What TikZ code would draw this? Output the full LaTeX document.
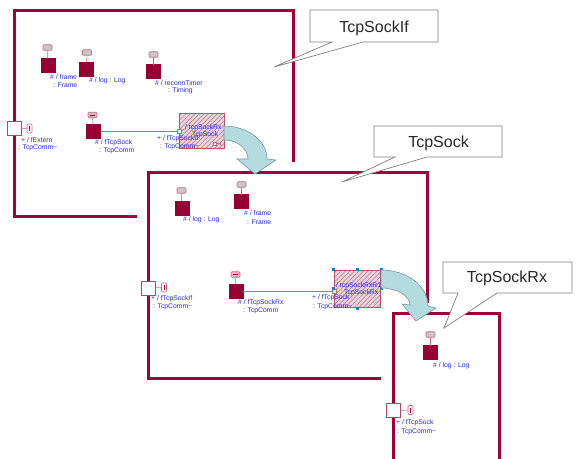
\documentclass[tikz,border=0pt]{standalone}
\usepackage{fontspec}
\setmainfont{Liberation Sans}
\usetikzlibrary{patterns.meta}
\definecolor{framec}{RGB}{160,0,55}
\definecolor{partc}{RGB}{150,0,50}
\definecolor{pinkc}{RGB}{200,100,130}
\definecolor{portc}{RGB}{180,70,100}
\definecolor{tabgray}{RGB}{200,200,200}
\definecolor{tabpink}{RGB}{230,180,195}
\definecolor{bluec}{RGB}{40,40,235}
\definecolor{hfill}{RGB}{235,210,218}
\definecolor{hline}{RGB}{175,120,140}
\definecolor{hborder}{RGB}{190,80,110}
\definecolor{arrowfill}{RGB}{180,220,222}
\definecolor{arrowline}{RGB}{120,150,155}
\definecolor{handlec}{RGB}{30,120,200}
\definecolor{calloutline}{RGB}{130,130,130}
\definecolor{callouttext}{RGB}{40,40,40}
\newcommand{\lblfont}{\fontsize{6.8}{7.5}\selectfont}
\newcommand{\ctfont}{\fontsize{16}{19}\selectfont}
\begin{document}
\begin{tikzpicture}[x=1pt,y=-1pt,
  frameline/.style={draw=framec, line width=3pt},
  partsq/.style={draw=partc, fill=partc, minimum size=14pt, inner sep=0pt, outer sep=0pt},
  tabbox/.style={draw=pinkc, fill=tabgray, rounded corners=1pt, minimum width=9pt, minimum height=5.5pt, inner sep=0pt, line width=0.6pt},
  eqtab/.style={tabbox, fill=tabpink, text=partc},
  portsq/.style={draw=portc, fill=white, minimum size=14pt, inner sep=0pt, line width=0.8pt},
  picon/.style={draw=pinkc, fill=white, rounded corners=1pt, minimum width=5pt, minimum height=9pt, inner sep=0pt, line width=0.6pt, text=partc},
  smallport/.style={draw=pinkc, fill=white, minimum size=4pt, inner sep=0pt, line width=0.6pt},
  wire/.style={draw=pinkc, line width=0.9pt},
  stem/.style={draw=pinkc, line width=0.6pt},
  hbox/.style={draw=hborder, line width=0.8pt, preaction={fill=hfill}, pattern={Lines[angle=45,distance=3.2pt,line width=0.5pt]}, pattern color=hline, inner sep=0pt},
  handle/.style={fill=handlec, minimum size=3pt, inner sep=0pt},
  lbl/.style={font=\lblfont, text=bluec, inner sep=0pt, anchor=west},
  bigarrow/.style={fill=arrowfill, draw=arrowline, line width=0.6pt},
  callout/.style={fill=white, draw=calloutline, line width=0.7pt},
  ctext/.style={font=\ctfont, text=callouttext, inner sep=0pt, anchor=base}
]
\useasboundingbox (0,0) rectangle (577,458);
\clip (0,0) rectangle (577,458);
\fill[white] (0,0) rectangle (577,458);

% ---------------- Frame 1 : TcpSockIf
\draw[frameline] (14,10) rectangle (293,216);
\node[partsq] (p1frame) at (48,65) {};
\node[tabbox] (t1frame) at (47.5,47.5) {};
\draw[stem] (t1frame) -- (p1frame);
\node[partsq] (p1log) at (86.5,69) {};
\node[tabbox] (t1log) at (87,52.5) {};
\draw[stem] (t1log) -- (p1log);
\node[partsq] (p1timer) at (153.5,71.5) {};
\node[tabbox] (t1timer) at (153.5,54.5) {};
\draw[stem] (t1timer) -- (p1timer);
\node[partsq] (p1sock) at (93.5,131.5) {};
\node[eqtab] (t1sock) at (92.5,115) {\rule{5pt}{0.7pt}};
\draw[stem] (t1sock) -- (p1sock);
\node[portsq] (fext) at (14,128) {};
\node[picon] (fexti) at (29.5,128.5) {\rule{1pt}{5pt}};
\draw[stem] (fext) -- (fexti);
\node[hbox, minimum width=45pt, minimum height=35pt] (box1) at (201.5,130.5) {};
\node[smallport] (b1port) at (179,131.5) {};
\draw[wire] (p1sock) -- (b1port);
\node[smallport, minimum size=3pt] (b1ic) at (215,143.5) {};
\draw[stem] (b1ic) -- (219.5,143.5);
\draw[stem] (222,141.5) .. controls (219.5,141.5) and (219.5,145.5) .. (222,145.5);
\node[lbl] (b1t1) at (185,127.5) {/ tcpSockRx};
\node[lbl] (b1t2) at (192,135) {TcpSock};
\node[lbl] (l1a) at (50,77) {\# / frame};
\node[lbl] (l1b) at (53,85) {: Frame};
\node[lbl] (l2a) at (89,81) {\# / log : Log};
\node[lbl] (l3a) at (155,83) {\# / reconnTimer};
\node[lbl] (l3b) at (168,91) {: Timing};
\node[lbl] (l4a) at (21,140) {+ / fExtern};
\node[lbl] (l4b) at (18,148) {: TcpComm\textasciitilde};
\node[lbl] (l5a) at (95,143) {\# / fTcpSock};
\node[lbl] (l5b) at (99,151) {: TcpComm};
\node[lbl] (l6a) at (157,139) {+ / fTcpSockIf};
\node[lbl] (l6b) at (160,147) {: TcpComm\textasciitilde};

% ---------------- Frame 2 : TcpSock
\fill[white] (137,162) rectangle (438,389);
\draw[frameline] (148,172) rectangle (427,378);
\node[partsq] (p2log) at (182,208) {};
\node[tabbox] (t2log) at (181.5,190.5) {};
\draw[stem] (t2log) -- (p2log);
\node[partsq] (p2frame) at (241.5,201.5) {};
\node[tabbox] (t2frame) at (241.5,184.5) {};
\draw[stem] (t2frame) -- (p2frame);
\node[partsq] (p2rx) at (236,291) {};
\node[eqtab] (t2rx) at (235.5,274.5) {\rule{5pt}{0.7pt}};
\draw[stem] (t2rx) -- (p2rx);
\node[portsq] (fsif) at (148,288) {};
\node[picon] (fsifi) at (164,287.5) {\rule{1pt}{5pt}};
\draw[stem] (fsif) -- (fsifi);
\node[hbox, minimum width=46pt, minimum height=37pt] (box2) at (357,288.5) {};
\node[smallport] (b2port) at (334,291) {};
\draw[wire] (p2rx) -- (b2port);
\node[handle] (h1) at (333,269) {};
\node[handle] (h2) at (357,269) {};
\node[handle] (h3) at (381,269) {};
\node[handle] (h4) at (333,288) {};
\node[handle] (h5) at (381,288) {};
\node[handle] (h6) at (357,308) {};
\node[lbl] (b2t1) at (336,286) {/ tcpSockRxR1};
\node[lbl] (b2t2) at (344,293) {TcpSockRx};
\node[lbl] (m1a) at (183,220) {\# / log : Log};
\node[lbl] (m2a) at (244,213) {\# / frame};
\node[lbl] (m2b) at (247,222) {: Frame};
\node[lbl] (m3a) at (151,299) {+ / fTcpSockIf};
\node[lbl] (m3b) at (153,307) {: TcpComm\textasciitilde};
\node[lbl] (m4a) at (238,303) {\# / fTcpSockRx};
\node[lbl] (m4b) at (243,311) {: TcpComm};
\node[lbl] (m5a) at (312,298) {+ / fTcpSock};
\node[lbl] (m5b) at (313,307) {: TcpComm\textasciitilde};

% big arrow 1
\draw[bigarrow] (224,126) .. controls (247.7,126) and (267,140.8) .. (267,159)
  -- (276,160) -- (255,174) -- (237,159) -- (248,159)
  .. controls (248,148.5) and (237.2,140) .. (224,140) -- cycle;

% ---------------- Frame 3 : TcpSockRx
\fill[white] (381,303) rectangle (509,470);
\draw[frameline] (393,470) -- (393,313) -- (499,313) -- (499,470);
\node[partsq] (p3log) at (430.5,352.5) {};
\node[tabbox] (t3log) at (430.5,334.5) {};
\draw[stem] (t3log) -- (p3log);
\node[portsq] (fsock) at (393.5,410.5) {};
\node[picon] (fsocki) at (410.5,410) {\rule{1pt}{5pt}};
\draw[stem] (fsock) -- (fsocki);
\node[lbl] (n1a) at (433,366) {\# / log : Log};
\node[lbl] (n2a) at (396,423) {+ / fTcpSock};
\node[lbl] (n2b) at (397,432) {: TcpComm\textasciitilde};

% big arrow 2
\draw[bigarrow] (381,270) .. controls (407,270) and (428,286) .. (428,306)
  -- (436,308) -- (416,321) -- (402,304) -- (410,305)
  .. controls (410,296) and (397,288) .. (381,288) -- cycle;

% ---------------- Callouts
\draw[callout] (310,10) -- (438,10) -- (438,42) -- (363,42) -- (274,67) -- (332,42) -- (310,42) -- cycle;
\node[ctext] (c1) at (374,32) {TcpSockIf};
\draw[callout] (374,126) -- (502,126) -- (502,157) -- (427,157) -- (342,182) -- (395,157) -- (374,157) -- cycle;
\node[ctext] (c2) at (438.5,147) {TcpSock};
\draw[callout] (443,262) -- (572,262) -- (572,293) -- (497,293) -- (444,328) -- (458,293) -- (443,293) -- cycle;
\node[ctext] (c3) at (507,282.5) {TcpSockRx};
\end{tikzpicture}
\end{document}
